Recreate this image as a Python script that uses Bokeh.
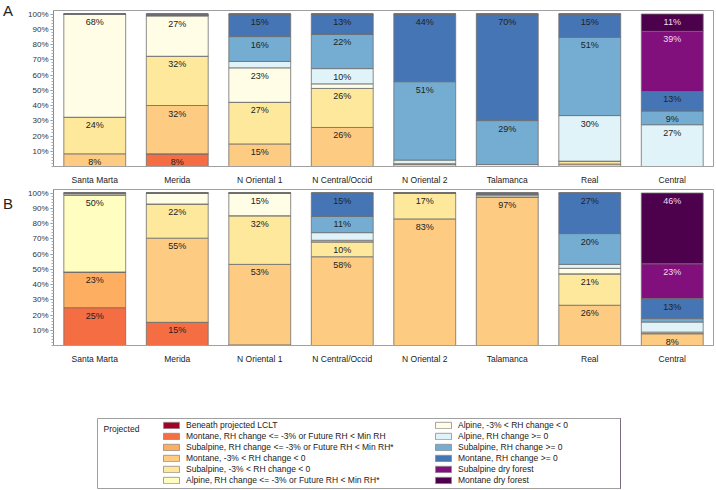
from bokeh.plotting import figure
from bokeh.models import (FactorRange, Range1d, ColumnDataSource, FixedTicker,
                          PrintfTickFormatter, Label, Legend, LegendItem, Plot,
                          LinearAxis)
from bokeh.layouts import column
from bokeh.embed import file_html
from bokeh.resources import INLINE
from bokeh.core.properties import value

FONT = "Liberation Sans"

regions = ["Santa Marta", "Merida", "N Oriental 1", "N Central/Occid",
           "N Oriental 2", "Talamanca", "Real", "Central"]

classes = ["beneath", "mont_dry", "sub_dry", "mont_mid", "sub_mid", "alp_dry",
           "alp_mid", "alp_wet", "sub_wet", "mont_wet", "sub_df", "mont_df"]

legend_labels = [
    "Beneath projected LCLT",
    "Montane, RH change <= -3% or Future RH < Min RH",
    "Subalpine, RH change <= -3% or Future RH < Min RH*",
    "Montane, -3% < RH change < 0",
    "Subalpine, -3% < RH change < 0",
    "Alpine, RH change <= -3% or Future RH < Min RH*",
    "Alpine, -3% < RH change < 0",
    "Alpine, RH change >= 0",
    "Subalpine, RH change >= 0",
    "Montane, RH change >= 0",
    "Subalpine dry forest",
    "Montane dry forest",
]

colors = ["#A50026", "#F46D43", "#FDAE61", "#FDCB82", "#FEE89C", "#FFFDC0",
          "#FFFDE6", "#E0F3F8", "#74ADD1", "#4575B4", "#810F7C", "#4D004B"]

# Panel A (percent of area), one list per class, in region order
A_beneath  = [0, 0, 0, 0, 0, 0, 0, 0]
A_mont_dry = [0, 8.3, 0, 0, 0, 0, 0, 0]
A_sub_dry  = [0, 0, 0, 0, 0, 0, 0, 0]
A_mont_mid = [8.3, 31.7, 14.8, 25.6, 1.8, 0, 1.6, 0]
A_sub_mid  = [24.0, 32.3, 27.3, 25.6, 0, 0, 1.9, 0]
A_alp_dry  = [0, 0, 0, 0, 0, 0, 0, 0]
A_alp_mid  = [67.7, 26.6, 22.6, 3.0, 0, 0, 0, 0]
A_alp_wet  = [0, 0, 4.2, 10.0, 2.4, 1.3, 29.9, 27.4]
A_sub_wet  = [0, 0, 16.3, 22.4, 51.4, 28.8, 51.3, 9.0]
A_mont_wet = [0, 1.1, 14.8, 13.4, 44.4, 69.9, 15.3, 12.8]
A_sub_df   = [0, 0, 0, 0, 0, 0, 0, 39.4]
A_mont_df  = [0, 0, 0, 0, 0, 0, 0, 11.4]

# Panel B
B_beneath  = [0, 0, 0.4, 0, 0, 0, 0, 0]
B_mont_dry = [24.8, 15.2, 0, 0, 0, 0, 0, 0]
B_sub_dry  = [23.4, 0, 0, 0, 0, 0, 0, 0]
B_mont_mid = [0, 55.2, 52.8, 58.2, 83.0, 97.2, 26.4, 7.8]
B_sub_mid  = [0, 22.4, 31.9, 9.8, 17.0, 0, 20.6, 0]
B_alp_dry  = [50.2, 0, 0, 0, 0, 0, 0, 0]
B_alp_mid  = [1.0, 7.2, 14.9, 1.0, 0, 1.0, 3.6, 1.0]
B_alp_wet  = [0.6, 0, 0, 5.0, 0, 0.8, 2.6, 6.6]
B_sub_wet  = [0, 0, 0, 10.6, 0, 0, 20.2, 2.2]
B_mont_wet = [0, 0, 0, 15.4, 0, 1.0, 26.6, 13.2]
B_sub_df   = [0, 0, 0, 0, 0, 0, 0, 22.8]
B_mont_df  = [0, 0, 0, 0, 0, 0, 0, 46.4]

A_vals = [A_beneath, A_mont_dry, A_sub_dry, A_mont_mid, A_sub_mid, A_alp_dry,
          A_alp_mid, A_alp_wet, A_sub_wet, A_mont_wet, A_sub_df, A_mont_df]
B_vals = [B_beneath, B_mont_dry, B_sub_dry, B_mont_mid, B_sub_mid, B_alp_dry,
          B_alp_mid, B_alp_wet, B_sub_wet, B_mont_wet, B_sub_df, B_mont_df]

yticks = [10, 20, 30, 40, 50, 60, 70, 80, 90, 100]
LABEL_MIN = 7.5

HAS_FRAME_ALIGN = "frame_align" in Plot.properties()
HAS_LABEL_ALIGN = "axis_label_align" in LinearAxis.properties()


def panel(vals, letter, line_height, height, top_border, bottom_border):
    data = {"cat": regions}
    for k, v in zip(classes, vals):
        data[k] = v
    src = ColumnDataSource(data)
    p = figure(x_range=FactorRange(*regions, range_padding=0),
               y_range=Range1d(0, 102.3), width=714, height=height,
               output_backend="svg", toolbar_location=None,
               min_border_left=52, min_border_right=1,
               min_border_top=top_border, min_border_bottom=bottom_border)
    if HAS_FRAME_ALIGN:
        p.frame_align = False
    p.vbar_stack(classes, x="cat", width=0.75, source=src, fill_color=colors,
                 line_color="#6E6E6E", line_width=0.8)
    # segment labels
    lx, ly, lt, lc = [], [], [], []
    for j, reg in enumerate(regions):
        cum = 0.0
        for i, k in enumerate(classes):
            v = vals[i][j]
            cum += v
            if v >= LABEL_MIN:
                lx.append(reg)
                ly.append(cum)
                lt.append(f"{round(v)}%")
                lc.append("#F0DDF0" if k in ("sub_df", "mont_df") else "#222222")
    lsrc = ColumnDataSource(dict(x=lx, y=ly, t=lt, c=lc))
    p.text(x="x", y="y", text="t", text_color="c", source=lsrc,
           text_font=value(FONT), text_font_size="9px", text_align="center",
           text_baseline="top", y_offset=3)
    p.xgrid.visible = False
    p.ygrid.visible = False
    p.outline_line_color = "#A0A0A0"
    p.outline_line_width = 1
    p.background_fill_color = "white"
    p.border_fill_color = "white"

    ya = p.yaxis[0]
    ya.ticker = FixedTicker(ticks=yticks, minor_ticks=list(range(0, 101, 2)))
    ya.formatter = PrintfTickFormatter(format="%d%%")
    ya.major_tick_in = 0
    ya.major_tick_out = 3
    ya.minor_tick_in = 0
    ya.minor_tick_out = 2
    ya.major_tick_line_color = "#888888"
    ya.minor_tick_line_color = "#AAAAAA"
    ya.axis_line_color = "#888888"
    ya.major_label_standoff = 2
    ya.major_label_text_font = FONT
    ya.major_label_text_font_size = "8px"
    ya.major_label_text_color = "#333333"
    # panel letter as the axis label, horizontal, at the top
    ya.axis_label = letter
    ya.axis_label_orientation = "horizontal"
    ya.axis_label_text_font = FONT
    ya.axis_label_text_font_style = "normal"
    ya.axis_label_text_font_size = "15px"
    ya.axis_label_text_color = "#222222"
    ya.axis_label_text_line_height = line_height
    ya.axis_label_standoff = 12
    if HAS_LABEL_ALIGN:
        ya.axis_label_align = "end"

    xa = p.xaxis[0]
    xa.major_tick_in = 0
    xa.major_tick_out = 0
    xa.axis_line_color = "#A0A0A0"
    xa.major_label_standoff = 8
    xa.major_label_text_font = FONT
    xa.major_label_text_font_size = "8.5px"
    xa.major_label_text_color = "#222222"
    return p


pA = panel(A_vals, "A", 1.2, 188, 10, 22)
pB = panel(B_vals, "\nB", 1.6, 179, 1, 22)

# legend panel
lg = figure(width=622, height=122, x_range=Range1d(0, 1), y_range=Range1d(0, 1),
            output_backend="svg", toolbar_location=None,
            x_axis_location=None, y_axis_location=None,
            min_border_left=97, min_border_right=2, min_border_top=51,
            min_border_bottom=1)
if HAS_FRAME_ALIGN:
    lg.frame_align = False
lg.xgrid.visible = False
lg.ygrid.visible = False
lg.outline_line_color = "#A0A0A0"

# legend swatch renderers (one dummy bar each, placed outside the visible range)
items = []
for lab, c in zip(legend_labels, colors):
    r = lg.vbar(x=[5], top=[1], bottom=[0], width=0.5, fill_color=c,
                line_color="#8C8C8C", line_width=0.8)
    items.append(LegendItem(label=lab, renderers=[r]))


def mk_legend(its, loc):
    return Legend(items=its, location=loc, padding=0, margin=0, spacing=1,
                  border_line_alpha=0, background_fill_alpha=0,
                  label_text_font=FONT, label_text_font_size="8.5px",
                  label_text_color="#222222", glyph_width=20, glyph_height=8,
                  label_height=9, label_standoff=5)


lg.add_layout(mk_legend(items[:6], (64, 3)))
lg.add_layout(mk_legend(items[6:], (336, 3)))
lg.add_layout(Label(x=6, y=65, x_units="screen", y_units="screen",
                    text="Projected", text_font=FONT, text_font_size="8.5px",
                    text_baseline="top", text_color="#222222"))

layout = column(pA, pB, lg, spacing=0)
open("out.html", "w").write(file_html(layout, INLINE))
